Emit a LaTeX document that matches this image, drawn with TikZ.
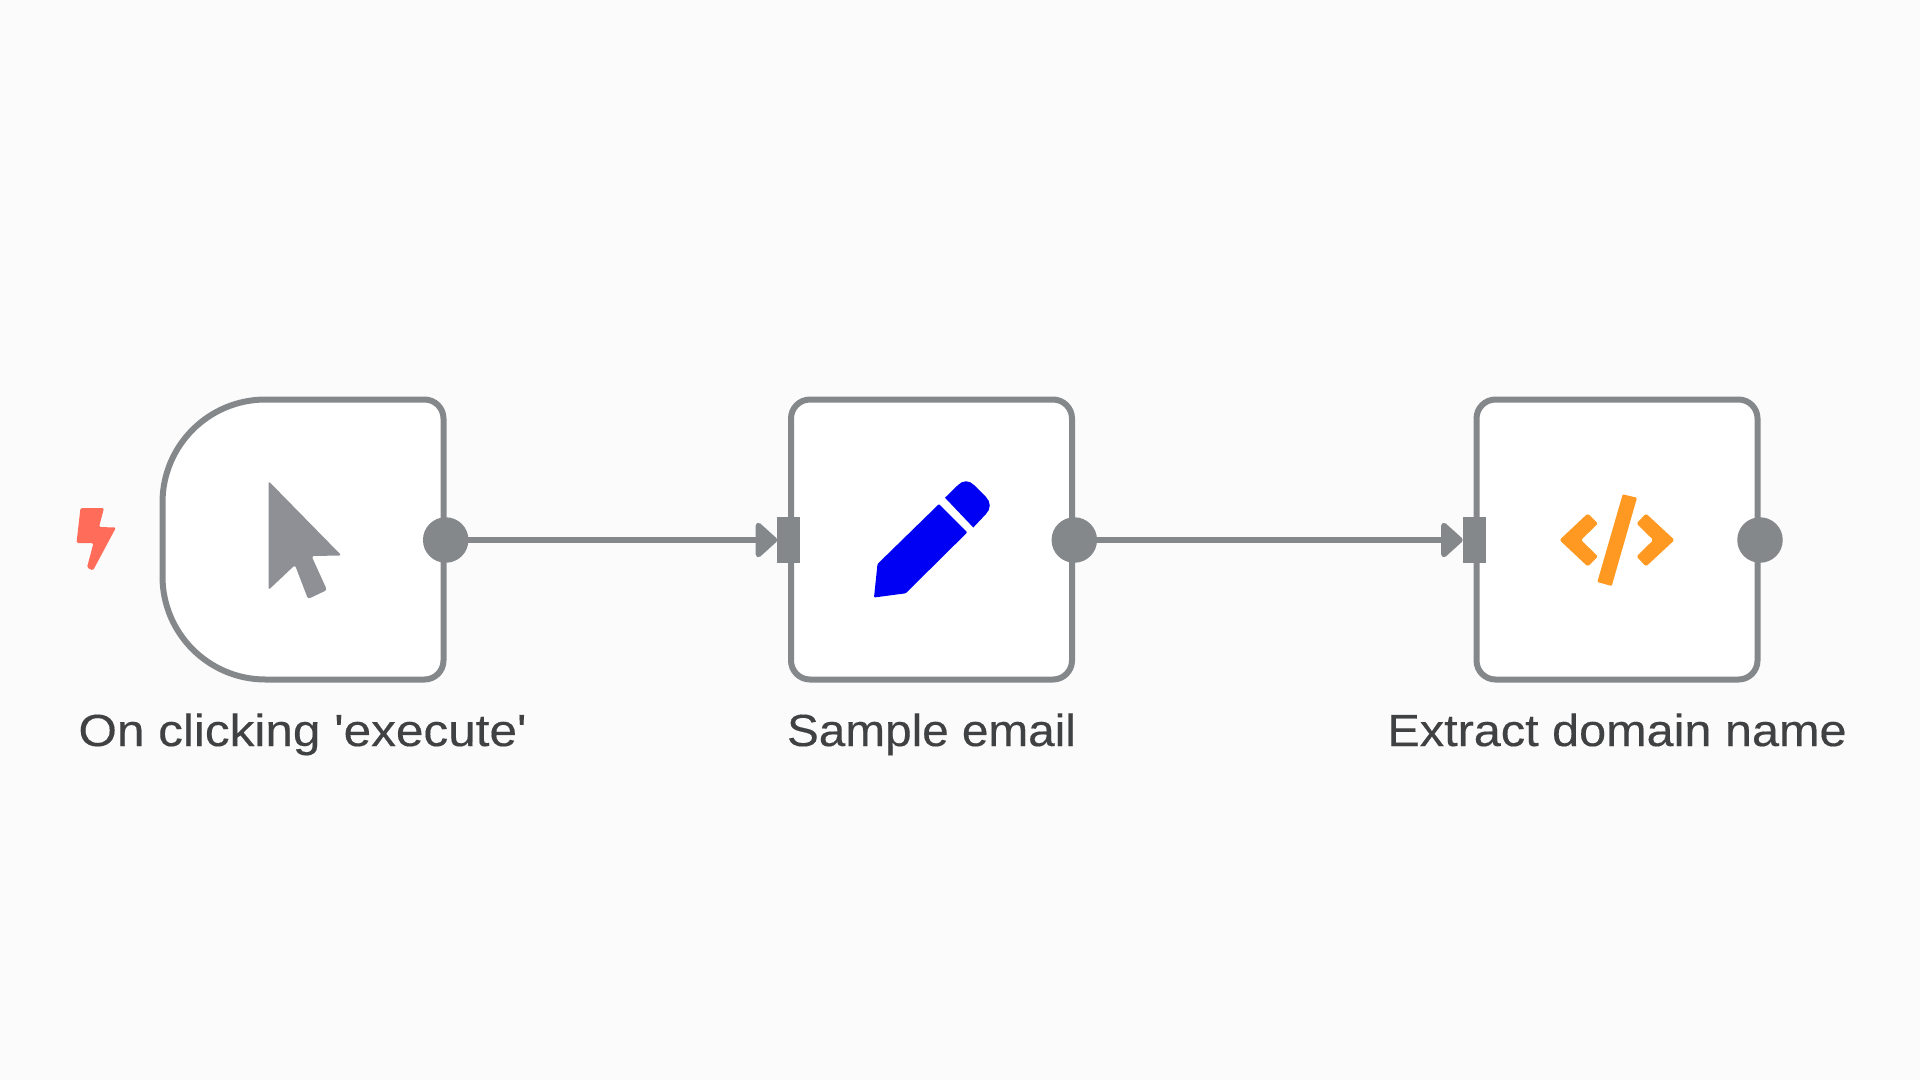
\documentclass[tikz,border=0pt]{standalone}
\usepackage{fontspec}
\setmainfont[Ligatures=TeXOff,FakeStretch=1.1,FakeBold=0.3]{Liberation Sans}
\newfontfamily\sampfont[Ligatures=TeXOff,FakeStretch=1.06,FakeBold=0.3]{Liberation Sans}
\newfontfamily\extrfont[Ligatures=TeXOff,FakeStretch=1.08,FakeBold=0.3]{Liberation Sans}
\usetikzlibrary{arrows.meta}
\definecolor{bgc}{HTML}{FBFBFB}
\definecolor{linec}{HTML}{85888B}
\definecolor{cursorc}{HTML}{8E9095}
\definecolor{boltc}{HTML}{FF6D5A}
\definecolor{penc}{HTML}{0000F5}
\definecolor{codec}{HTML}{FF9922}
\definecolor{textc}{HTML}{404142}
\tikzset{
  x=1pt,y=-1pt,
  nodebox/.style={draw=linec,line width=6pt,fill=white,rounded corners=19pt,minimum width=281pt,minimum height=280pt,inner sep=0pt,outer sep=0pt},
  outport/.style={circle,fill=linec,minimum size=45.5pt,inner sep=0pt,outer sep=0pt},
  inport/.style={rectangle,fill=linec,minimum width=23pt,minimum height=45.5pt,inner sep=0pt,outer sep=0pt},
  wire/.style={draw=linec,line width=5.5pt,-{Triangle[length=23pt,width=40pt,round]}},
  labeltext/.style={text=textc,inner sep=0pt,anchor=base},
}
\begin{document}
\begin{tikzpicture}
\useasboundingbox (0,0) rectangle (1920,1080);
\fill[bgc] (0,0) rectangle (1920,1080);
% trigger node
\draw[draw=linec,line width=6pt,fill=white]
  (424.5,399.5) -- (265.5,399.5) arc[start angle=270,end angle=180,radius=103]
  -- (162.5,576.5) arc[start angle=180,end angle=90,radius=103]
  -- (424.5,679.5) arc[start angle=90,end angle=0,radius=19]
  -- (443.5,418.5) arc[start angle=0,end angle=-90,radius=19] -- cycle;
\node[minimum width=281pt,minimum height=280pt,inner sep=0pt,outer sep=0pt] (n1) at (303,539.5) {};
\node[nodebox] (n2) at (931.5,539.5) {};
\node[nodebox] (n3) at (1617,539.5) {};
% ports
\node[outport] (o1) at (445.7,540) {};
\node[outport] (o2) at (1074.3,540) {};
\node[outport] (o3) at (1760,540) {};
\node[inport] (i2) at (788.7,540) {};
\node[inport] (i3) at (1474.2,540) {};
\draw[wire] (o1) -- (i2);
\draw[wire] (o2) -- (i3);
% bolt
\fill[boltc,rounded corners=1.5pt] (80.5,508) -- (104,508) -- (99,527) -- (116,527.5) -- (93,570.5) -- (87,567.5) -- (93.5,543) -- (76.5,543) -- cycle;
% cursor
\fill[cursorc,rounded corners=2.5pt] (268.5,481) -- (341.5,555.5) -- (311.5,556) -- (327,590) -- (308,599) -- (295,565) -- (268.5,590) -- cycle;
% pencil
\fill[penc,rounded corners=1pt] (939,504) -- (967.3,532.3) -- (905.7,593.3) -- (874,597.5) -- (877.5,564) -- cycle;
\fill[penc] (945,497.7) -- (958,485) .. controls (963,480) and (969,480) .. (974,485) -- (986,497) .. controls (991,502) and (991,509) .. (986,514) -- (973.3,527.5) -- cycle;
% code
\fill[codec,rounded corners=1.5pt] (1559.5,540) -- (1587.7,513.5) -- (1598,523.5) -- (1581,540) -- (1598,556.5) -- (1587.7,566.5) -- cycle;
\fill[codec,rounded corners=1.5pt] (1674.5,540) -- (1646,513.5) -- (1636.5,523.5) -- (1653.3,540) -- (1636.5,556.5) -- (1646,566.5) -- cycle;
\fill[codec,rounded corners=1pt] (1622.7,494.3) -- (1637,497.7) -- (1611.7,586) -- (1597.3,582) -- cycle;
% labels
\node[labeltext,font=\fontsize{45}{50}\selectfont] (t1) at (302.5,746) {On clicking 'execute'};
\node[labeltext,font=\fontsize{45}{50}\sampfont] (t2) at (931.5,746) {Sample email};
\node[labeltext,font=\fontsize{45}{50}\extrfont] (t3) at (1617,746) {Extract domain name};
\end{tikzpicture}
\end{document}
